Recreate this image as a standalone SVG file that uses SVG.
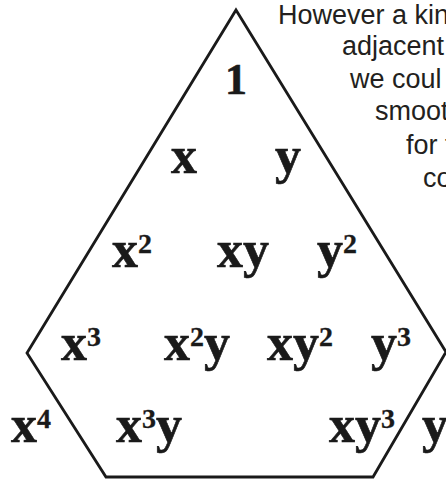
<svg xmlns="http://www.w3.org/2000/svg" width="446" height="481" viewBox="0 0 446 481">
  <style>
    .m { font-family: "Liberation Serif", "Times New Roman", serif; font-weight: bold; font-size: 52px; fill: #1a1a1a; stroke: #1a1a1a; stroke-width: 0.6; }
    .one { font-size: 44px; }
    .s { font-size: 28px; stroke-width: 0.3; }
    .p { font-family: "Liberation Sans", Arial, sans-serif; font-size: 27px; fill: #231f20; }
    .edge { fill: none; stroke: #1a1a1a; stroke-width: 2.8; stroke-linejoin: miter; }
  </style>
  <rect width="446" height="481" fill="#ffffff"/>
  <g id="paragraph">
    <text class="p" x="278" y="24">However a kin</text>
    <text class="p" x="342" y="55">adjacent</text>
    <text class="p" x="350" y="88">we coul</text>
    <text class="p" x="375" y="120">smoot</text>
    <text class="p" x="406" y="154">for t</text>
    <text class="p" x="423" y="187">co</text>
  </g>
  <g id="connectors">
    <polygon class="edge" points="236,10 446,352 373,477 106,477 27,353"/>
  </g>
  <g id="n-1"><text class="m one" x="225" y="94">1</text></g>
  <g id="n-x"><text class="m" x="171" y="173">x</text></g>
  <g id="n-y"><text class="m" x="275" y="173">y</text></g>
  <g id="n-x2"><text class="m" x="112" y="267">x<tspan class="s" dy="-14">2</tspan></text></g>
  <g id="n-xy"><text class="m" x="217" y="267">xy</text></g>
  <g id="n-y2"><text class="m" x="317" y="267">y<tspan class="s" dy="-14">2</tspan></text></g>
  <g id="n-x3"><text class="m" x="61" y="360">x<tspan class="s" dy="-14">3</tspan></text></g>
  <g id="n-x2y"><text class="m" x="164" y="360">x<tspan class="s" dy="-14">2</tspan><tspan dy="14">y</tspan></text></g>
  <g id="n-xy2"><text class="m" x="267" y="360">xy<tspan class="s" dy="-14">2</tspan></text></g>
  <g id="n-y3"><text class="m" x="371" y="360">y<tspan class="s" dy="-14">3</tspan></text></g>
  <g id="n-x4"><text class="m" x="11" y="442">x<tspan class="s" dy="-14">4</tspan></text></g>
  <g id="n-x3y"><text class="m" x="116" y="442">x<tspan class="s" dy="-14">3</tspan><tspan dy="14">y</tspan></text></g>
  <g id="n-xy3"><text class="m" x="329" y="442">xy<tspan class="s" dy="-14">3</tspan></text></g>
  <g id="n-y4"><text class="m" x="422" y="442">y</text></g>
</svg>
